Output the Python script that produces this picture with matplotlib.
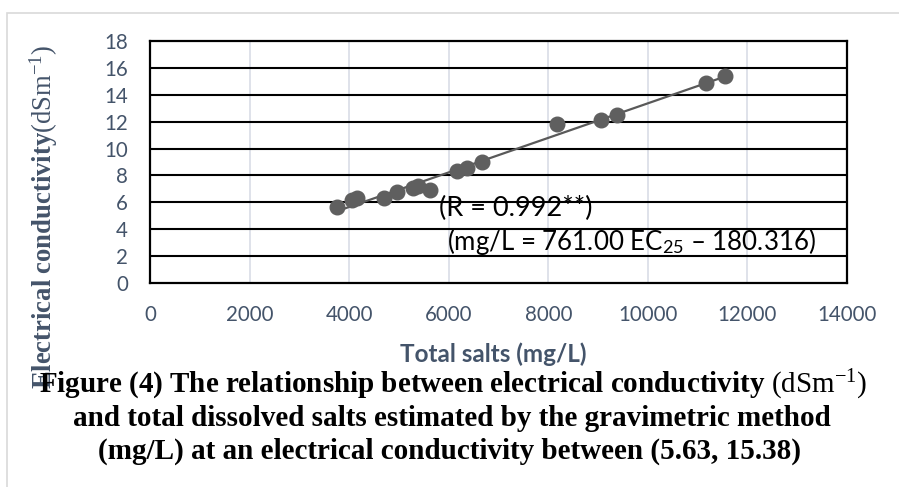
import numpy as np
import matplotlib
matplotlib.use("Agg")
import matplotlib.pyplot as plt
from matplotlib.patches import Rectangle

# Data
total_salts = [3760, 4055, 4157, 4700, 4960, 5282, 5380, 5623, 6165, 6365, 6665,
               8170, 9055, 9380, 11165, 11546]
ec_values = [5.63, 6.15, 6.3, 6.35, 6.75, 7.1, 7.25, 6.95, 8.35, 8.55, 9.0,
             11.8, 12.1, 12.5, 14.85, 15.38]
x_ticks = [0, 2000, 4000, 6000, 8000, 10000, 12000, 14000]
y_ticks = [0, 2, 4, 6, 8, 10, 12, 14, 16, 18]

plt.rcParams['mathtext.fontset'] = 'custom'
plt.rcParams['mathtext.rm'] = 'Liberation Serif'
plt.rcParams['mathtext.bf'] = 'Liberation Serif:bold'
plt.rcParams['mathtext.it'] = 'Liberation Serif:italic'
plt.rcParams['mathtext.sf'] = 'Lato'

W, H = 899, 487
fig = plt.figure(figsize=(W / 100, H / 100), dpi=100)

# light outer chart border
fig.patches.append(Rectangle((7 / W, -0.1), 1.2, 1 - 13 / H + 0.1, transform=fig.transFigure,
                             fill=False, edgecolor='#d9d9d9', lw=1.2))

ax = fig.add_axes([150 / W, 1 - 283 / H, 697 / W, 242 / H])
ax.set_xlim(0, 14000)
ax.set_ylim(0, 18)
ax.set_xticks(x_ticks)
ax.set_yticks(y_ticks)
tick_col = '#44546a'
ax.set_xticklabels([str(v) for v in x_ticks], fontfamily='Lato', fontsize=14.8, color=tick_col)
ax.set_yticklabels([str(v) for v in y_ticks], fontfamily='Lato', fontsize=14.8, color=tick_col)
ax.tick_params(axis='x', length=0, pad=16)
ax.tick_params(axis='y', length=0, pad=16)

for v in x_ticks[1:-1]:
    ax.axvline(v, color='#d9dde6', lw=1.2, zorder=1)
for v in y_ticks[1:-1]:
    ax.axhline(v, color='black', lw=1.5, zorder=1)
for s in ax.spines.values():
    s.set_color('black')
    s.set_linewidth(1.6)

# trend line (least squares of data)
xs = np.array(total_salts, dtype=float)
ys = np.array(ec_values, dtype=float)
m, b = np.polyfit(xs, ys, 1)
xl = np.array([xs.min(), xs.max()])
ax.plot(xl, m * xl + b, color='#595959', lw=1.6, zorder=2)
ax.plot(xs, ys, 'o', color='#5f5f5f', markersize=10.5, zorder=3)

ax.text(5805, 5.58, '(R = 0.992**)', fontfamily='Lato', fontsize=19.5, color='black',
        ha='left', va='center', zorder=4)
ax.text(5965, 3.05, r'(mg/L = 761.00 EC$_{\mathsf{25}}$ – 180.316)', fontfamily='Lato',
        fontsize=18.6, color='black', ha='left', va='center', zorder=4)

fig.text(493 / W, 1 - 354 / H, 'Total salts (mg/L)', fontfamily='Lato', fontweight='bold',
         fontsize=17.5, color=tick_col, ha='center', va='center')

fig.text(44 / W, 1 - 217 / H,
         r'$\mathbf{Electrical\ conductivity}$(dSm$^{\mathrm{-1}}$)',
         rotation=90, ha='center', va='center', fontfamily='Liberation Serif',
         fontsize=19.2, color=tick_col)

cap_x = 453 / W
fig.text(cap_x, 1 - 385 / H,
         r'$\mathbf{Figure\ (4)\ The\ relationship\ between\ electrical\ conductivity}$ (dSm$^{\mathrm{-1}}$)',
         ha='center', va='center', fontfamily='Liberation Serif', fontsize=21, color='black')
fig.text(cap_x - 1 / W, 1 - 418 / H,
         'and total dissolved salts estimated by the gravimetric method',
         ha='center', va='center', fontfamily='Liberation Serif', fontweight='bold',
         fontsize=21, color='black')
fig.text(cap_x - 3 / W, 1 - 451 / H,
         '(mg/L) at an electrical conductivity between (5.63, 15.38)',
         ha='center', va='center', fontfamily='Liberation Serif', fontweight='bold',
         fontsize=21, color='black')

fig.savefig('out.png', dpi=100, facecolor='white')
